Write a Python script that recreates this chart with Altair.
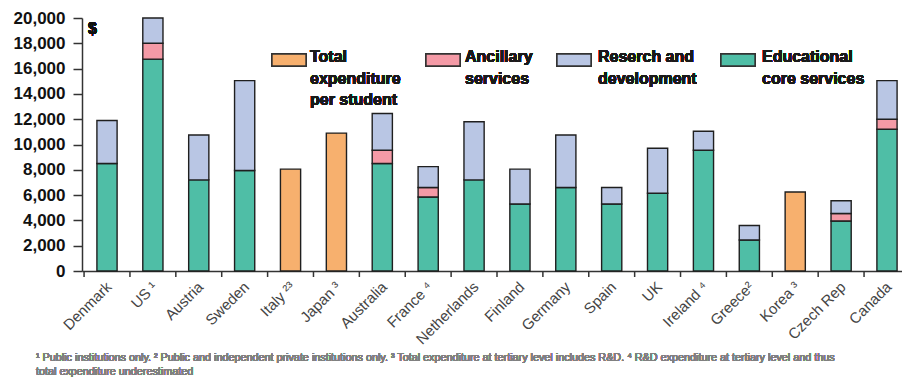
import altair as alt
import pandas as pd

countries = ["Denmark", "US ¹", "Austria", "Sweden", "Italy ²³", "Japan ³", "Australia",
             "France ⁴", "Netherlands", "Finland", "Germany", "Spain", "UK", "Ireland ⁴",
             "Greece²", "Korea ³", "Czech Rep", "Canada"]
core = [8500, 16750, 7200, 7950, 0, 0, 8500, 5850, 7200, 5300, 6600, 5300, 6150, 9550, 2450, 0, 3950, 11200]
ancillary = [0, 1250, 0, 0, 0, 0, 1050, 750, 0, 0, 0, 0, 0, 0, 0, 0, 600, 800]
research = [3400, 2000, 3550, 7100, 0, 0, 2900, 1650, 4600, 2750, 4150, 1300, 3550, 1500, 1150, 0, 1000, 3050]
total_only = [0, 0, 0, 0, 8050, 10900, 0, 0, 0, 0, 0, 0, 0, 0, 0, 6250, 0, 0]

series_names = ["total", "ancillary", "research", "core"]
series_colors = ["#f7b06e", "#f49aa6", "#b9c6e4", "#4fbea6"]
y_ticks = list(range(0, 20001, 2000))

footnote1 = ("¹ Public institutions only. ² Public and independent private institutions only. "
             "³ Total expenditure at tertiary level includes R&D. ⁴ R&D expenditure at tertiary level and thus")
footnote2 = "total expenditure underestimated"

rows = []
for i, c in enumerate(countries):
    for name, vals, ordv in [("core", core, 0), ("ancillary", ancillary, 1),
                             ("research", research, 2), ("total", total_only, 0)]:
        if vals[i] > 0:
            rows.append({"country": c, "series": name, "value": vals[i], "ord": ordv})
df = pd.DataFrame(rows)
cat_df = pd.DataFrame({"country": countries})

step = 830 / (18 - 0.56 + 2 * 0.325)
half_gap = 0.56 * step / 2

xscale = alt.Scale(domain=countries, range=[0, 830], paddingInner=0.56, paddingOuter=0.325)

bars = alt.Chart(df).mark_bar(stroke="#1f1f1f", strokeWidth=1.4).encode(
    x=alt.X("country:N", scale=xscale,
            axis=alt.Axis(title=None, labelAngle=-45, labelFont="Liberation Sans", labelFontSize=15,
                          labelColor="#444", labelPadding=8, ticks=False, labelOffset=-3,
                          domainColor="#333", domainWidth=1.5)),
    y=alt.Y("value:Q", stack="zero",
            scale=alt.Scale(domain=[0, 20000], nice=False),
            axis=alt.Axis(title=None, values=y_ticks, format=",d", labelFont="Liberation Sans",
                          labelFontWeight="bold", labelFontSize=17, labelColor="#111",
                          tickSize=9, labelPadding=8, tickColor="#333", tickWidth=1.5,
                          domainColor="#333", domainWidth=1.5, grid=False)),
    color=alt.Color("series:N", scale=alt.Scale(domain=series_names, range=series_colors), legend=None),
    order=alt.Order("ord:Q", sort="ascending"),
)

xticks = alt.Chart(cat_df).mark_rule(color="#333", strokeWidth=1.5, xOffset=-half_gap).encode(
    x=alt.X("country:N", bandPosition=0, scale=xscale),
    y=alt.value(253), y2=alt.value(259),
)

layers = [bars, xticks]

legend_items = [
    (["Total", "expenditure", "per student"], series_colors[0], 190, 228),
    (["Ancillary", "services"], series_colors[1], 344, 383),
    (["Reserch and", "development"], series_colors[2], 475, 516),
    (["Educational", "core services"], series_colors[3], 639, 680),
]
for label, col, rx, tx in legend_items:
    layers.append(alt.Chart(cat_df).mark_rect(fill=col, stroke="#333", strokeWidth=1.4).encode(
        x=alt.value(rx), x2=alt.value(rx + 34), y=alt.value(36), y2=alt.value(48)))
    layers.append(alt.Chart(cat_df).mark_text(text=label, align="left", baseline="alphabetic",
                                              font="Liberation Sans", fontWeight="bold", fontSize=16,
                                              lineHeight=21.5, fill="#1a1a1a").encode(
        x=alt.value(tx), y=alt.value(44)))

layers.append(alt.Chart(cat_df).mark_text(text="$", align="left", baseline="alphabetic",
                                          font="Liberation Sans", fontWeight="bold", fontSize=16,
                                          fill="#111").encode(x=alt.value(6), y=alt.value(16)))
layers.append(alt.Chart(cat_df).mark_text(text=footnote1, align="left", baseline="alphabetic",
                                          font="Liberation Sans", fontSize=10.8, fill="#808080").encode(
    x=alt.value(-46), y=alt.value(343)))
layers.append(alt.Chart(cat_df).mark_text(text=footnote2, align="left", baseline="alphabetic",
                                          font="Liberation Sans", fontSize=10.8, fill="#808080").encode(
    x=alt.value(-46), y=alt.value(357)))

chart = alt.layer(*layers).properties(
    width=818, height=253,
    autosize=alt.AutoSizeParams(type="none"),
    padding={"left": 82, "top": 18, "right": 2, "bottom": 110},
    background="white",
).configure_view(stroke=None)

chart.save("out.html", embed_options={"renderer": "svg", "actions": False})
